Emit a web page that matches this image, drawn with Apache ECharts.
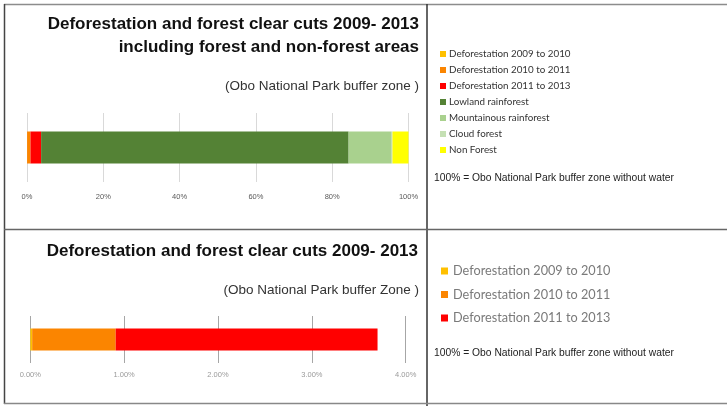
<!DOCTYPE html>
<html>
<head>
<meta charset="utf-8">
<script src="https://cdn.jsdelivr.net/npm/echarts@6/dist/echarts.min.js"></script>
<style>
  html, body { margin: 0; padding: 0; background: #fff; }
  #chart { width: 727px; height: 406px; }
</style>
</head>
<body>
<div id="chart"></div>
<script>
// area shares in percent of the buffer zone (without water)
const deforestNames = ["Deforestation 2009 to 2010", "Deforestation 2010 to 2011", "Deforestation 2011 to 2013"];
const deforestValues = [0.02, 0.89, 2.79];
const forestNames = ["Lowland rainforest", "Mountainous rainforest", "Cloud forest", "Non Forest"];
const forestValues = [80.6, 11.3, 0.2, 4.2];
const topTicks = [0, 20, 40, 60, 80, 100];
const bottomTicks = [0, 1, 2, 3, 4];

const colors = {
  "Deforestation 2009 to 2010": "#ffc000",
  "Deforestation 2010 to 2011": "#fb8500",
  "Deforestation 2011 to 2013": "#ff0000",
  "Lowland rainforest": "#548235",
  "Mountainous rainforest": "#a9d18e",
  "Cloud forest": "#c5e0b4",
  "Non Forest": "#ffff00",
};

const chart = echarts.init(document.getElementById("chart"));

const topSeries = deforestNames.map((name, i) => ({ name, value: deforestValues[i] }))
  .concat(forestNames.map((name, i) => ({ name, value: forestValues[i] })))
  .map((d) => ({
    name: d.name,
    type: "bar",
    stack: "top",
    xAxisIndex: 0,
    yAxisIndex: 0,
    barWidth: 32,
    itemStyle: { color: colors[d.name] },
    data: [d.value],
  }));

const bottomSeries = deforestNames.map((name, i) => ({
  name,
  type: "bar",
  stack: "bottom",
  xAxisIndex: 1,
  yAxisIndex: 1,
  barWidth: 22,
  itemStyle: { color: colors[name] },
  data: [deforestValues[i]],
}));

const titleFont = { fontFamily: "Liberation Sans", fontWeight: "bold", fontSize: 17, color: "#111" };
const subFont = { fontFamily: "Liberation Sans", fontWeight: "normal", fontSize: 13.5, color: "#333" };
const noteFont = { fontFamily: "Liberation Sans", fontWeight: "normal", fontSize: 10.3, color: "#222" };

chart.setOption({
  animation: false,
  title: [
    { text: "Deforestation and forest clear cuts 2009- 2013", right: 308, top: 16, padding: 0, textStyle: titleFont },
    { text: "including forest and non-forest areas", right: 308, top: 39, padding: 0, textStyle: titleFont },
    { text: "(Obo National Park buffer zone )", right: 308, top: 79, padding: 0, textStyle: subFont },
    { text: "Deforestation and forest clear cuts 2009- 2013", right: 309, top: 243, padding: 0, textStyle: titleFont },
    { text: "(Obo National Park buffer Zone )", right: 308, top: 283, padding: 0, textStyle: subFont },
    { text: "100% = Obo National Park buffer zone without water", left: 434, top: 173, padding: 0, textStyle: noteFont },
    { text: "100% = Obo National Park buffer zone without water", left: 434, top: 348, padding: 0, textStyle: noteFont },
  ],
  legend: [
    {
      data: deforestNames.concat(forestNames),
      orient: "vertical",
      left: 440,
      top: 48,
      padding: 0,
      icon: "rect",
      itemWidth: 6,
      itemHeight: 6,
      itemGap: 4,
      textStyle: { fontFamily: "Lato", fontSize: 9.8, color: "#333", lineHeight: 12, padding: [0, 0, 0, -2] },
    },
    {
      data: deforestNames,
      orient: "vertical",
      left: 441,
      top: 263,
      padding: 0,
      icon: "rect",
      itemWidth: 7,
      itemHeight: 7,
      itemGap: 7.5,
      textStyle: { fontFamily: "Lato", fontSize: 12.7, color: "#7a7a7a", lineHeight: 16 },
    },
  ],
  grid: [
    { left: 27, right: 318.5, top: 113, bottom: 224 },
    { left: 30.3, right: 321.3, top: 316, bottom: 43 },
  ],
  xAxis: [
    {
      gridIndex: 0,
      type: "value",
      min: topTicks[0],
      max: topTicks[topTicks.length - 1],
      interval: 20,
      axisLine: { show: false },
      axisTick: { show: false },
      axisLabel: { formatter: "{value}%", fontFamily: "Liberation Sans", fontSize: 7.5, color: "#595959", margin: 11 },
      splitLine: { lineStyle: { color: "#d9d9d9", width: 1 } },
    },
    {
      gridIndex: 1,
      type: "value",
      min: bottomTicks[0],
      max: bottomTicks[bottomTicks.length - 1],
      interval: 1,
      axisLine: { show: false },
      axisTick: { show: false },
      axisLabel: { formatter: (v) => v.toFixed(2) + "%", fontFamily: "Liberation Sans", fontSize: 7.5, color: "#9a9a9a", margin: 8 },
      splitLine: { lineStyle: { color: "#a6a6a6", width: 1 } },
    },
  ],
  yAxis: [
    { gridIndex: 0, type: "category", data: ["buffer zone"], show: false },
    { gridIndex: 1, type: "category", data: ["buffer zone"], show: false },
  ],
  graphic: [
    { type: "line", shape: { x1: 4, y1: 4.5, x2: 727, y2: 4.5 }, style: { stroke: "#8c8c8c", lineWidth: 1.5 } },
    { type: "line", shape: { x1: 4.5, y1: 4, x2: 4.5, y2: 404 }, style: { stroke: "#444", lineWidth: 1.5 } },
    { type: "line", shape: { x1: 427, y1: 4, x2: 427, y2: 406 }, style: { stroke: "#333", lineWidth: 1.5 } },
    { type: "line", shape: { x1: 4, y1: 229.5, x2: 727, y2: 229.5 }, style: { stroke: "#666", lineWidth: 1.5 } },
    { type: "line", shape: { x1: 4, y1: 403.5, x2: 727, y2: 403.5 }, style: { stroke: "#888", lineWidth: 1.5 } },
  ],
  series: topSeries.concat(bottomSeries),
});
</script>
</body>
</html>
